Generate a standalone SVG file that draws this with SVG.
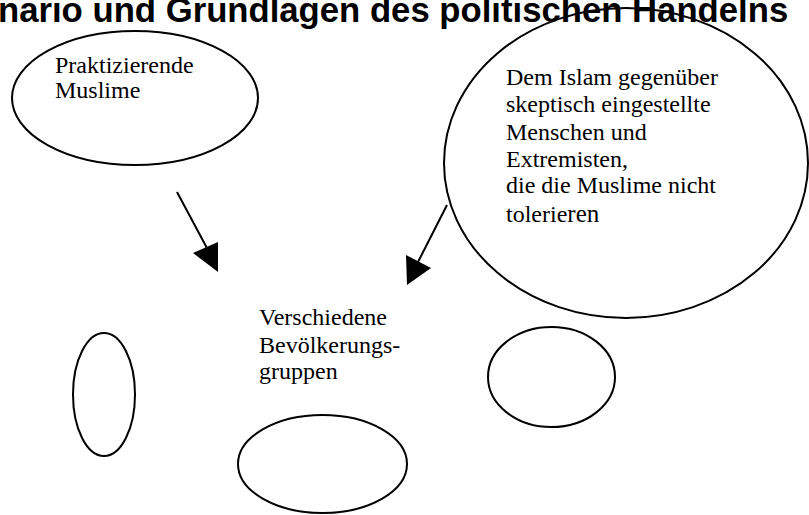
<svg xmlns="http://www.w3.org/2000/svg" width="809" height="515" viewBox="0 0 809 515">
<style>
.shape{fill:none;stroke:#000;stroke-width:2}
.lbl{font-family:"Liberation Serif","Times New Roman",serif;font-size:24px;fill:#000}
.title{font-family:"Liberation Sans",Arial,sans-serif;font-weight:bold;font-size:34.7px;fill:#000}
.conn{stroke:#000;stroke-width:2;fill:none}
.head{fill:#000;stroke:none}
</style>
<rect width="809" height="515" fill="#fff"/>
<text class="title" x="-2" y="22">nario und Grundlagen des politischen Handelns</text>
<g id="node-praktizierende">
<ellipse class="shape" cx="135" cy="98" rx="123" ry="67"/>
<text class="lbl" x="55" y="73">Praktizierende</text>
<text class="lbl" x="55" y="98">Muslime</text>
</g>
<g id="node-skeptiker">
<ellipse class="shape" cx="626" cy="163" rx="182" ry="155"/>
<text class="lbl" x="506" y="85">Dem Islam gegenüber</text>
<text class="lbl" x="506" y="112">skeptisch eingestellte</text>
<text class="lbl" x="506" y="140">Menschen und</text>
<text class="lbl" x="506" y="167">Extremisten,</text>
<text class="lbl" x="506" y="193">die die Muslime nicht</text>
<text class="lbl" x="506" y="222">tolerie<tspan font-size="25">ren</tspan></text>
</g>
<g id="node-bevoelkerung">
<text class="lbl" x="259" y="325">Verschiedene</text>
<text class="lbl" x="259" y="353">Bevölkerungs-</text>
<text class="lbl" x="259" y="379">gruppen</text>
</g>
<g id="node-left">
<ellipse class="shape" cx="104" cy="394.5" rx="31" ry="61.5"/>
</g>
<g id="node-bottom">
<ellipse class="shape" cx="322.5" cy="464" rx="84.5" ry="49"/>
</g>
<g id="node-right">
<ellipse class="shape" cx="551.5" cy="377" rx="63.5" ry="50"/>
</g>
<g id="connectors">
<line class="conn" x1="177" y1="192" x2="208" y2="250"/>
<polygon class="head" points="193,253 218,242 218,272"/>
<line class="conn" x1="447" y1="205" x2="418" y2="262"/>
<polygon class="head" points="406,255 431,268 407,285"/>
</g>
</svg>
